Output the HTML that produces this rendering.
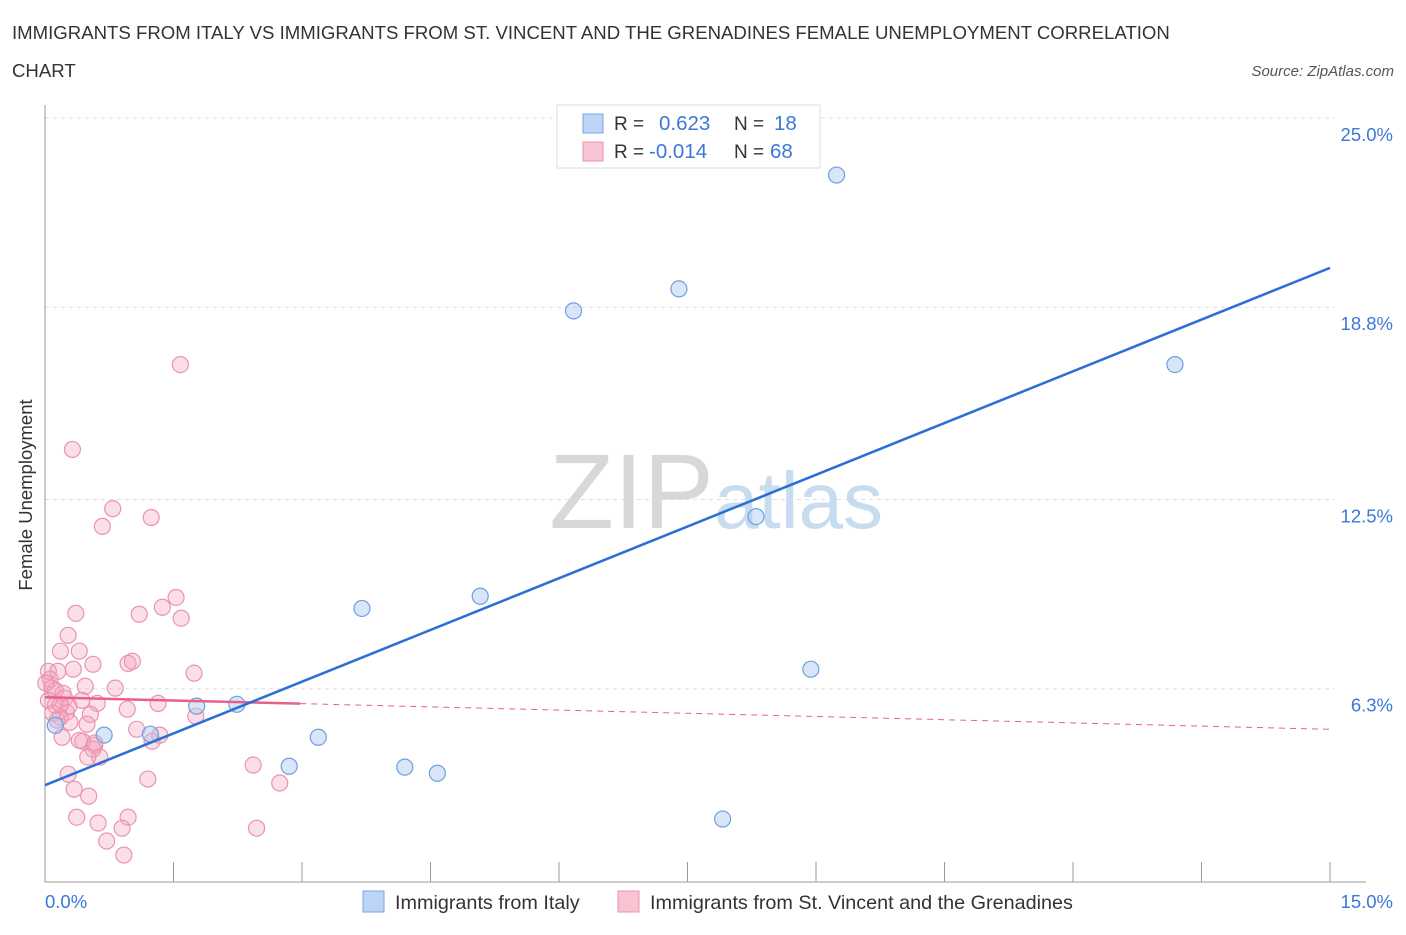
<!DOCTYPE html>
<html><head><meta charset="utf-8"><style>
body{margin:0;background:#fff;font-family:"Liberation Sans",sans-serif;}
svg text{font-family:"Liberation Sans",sans-serif;}
</style></head><body>
<svg id="chart" width="1406" height="930" viewBox="0 0 1406 930">
<text x="12" y="39" font-size="18.6" fill="#333">IMMIGRANTS FROM ITALY VS IMMIGRANTS FROM ST. VINCENT AND THE GRENADINES FEMALE UNEMPLOYMENT CORRELATION</text>
<text x="12" y="77" font-size="18.6" fill="#333">CHART</text>
<text x="1394" y="76" font-size="15" fill="#555" font-style="italic" text-anchor="end">Source: ZipAtlas.com</text>
<g id="grid"></g>
<g id="axes"></g>
<text x="714" y="528" font-size="106" fill="#d8d8d8" text-anchor="end" font-family="Liberation Serif">ZIP</text>
<text x="714" y="528" font-size="80" fill="#c8dcf0">atlas</text>
<g id="marks"></g>
<text x="32" y="495" font-size="18.5" fill="#333" text-anchor="middle" transform="rotate(-90 32 495)">Female Unemployment</text>
<g>
<rect x="557" y="105" width="263" height="63" fill="#fff" stroke="#ddd"/>
<rect x="583" y="114" width="20" height="19" fill="#bcd4f5" stroke="#7aa6e6"/>
<rect x="583" y="142" width="20" height="19" fill="#f8c4d4" stroke="#eb93ad"/>
<text x="614" y="130" font-size="19" fill="#333">R =</text>
<text x="659" y="130" font-size="20.5" fill="#3b78d8">0.623</text>
<text x="734" y="130" font-size="19" fill="#333">N =</text>
<text x="774" y="130" font-size="20.5" fill="#3b78d8">18</text>
<text x="614" y="158" font-size="19" fill="#333">R =</text>
<text x="649" y="158" font-size="20.5" fill="#3b78d8">-0.014</text>
<text x="734" y="158" font-size="19" fill="#333">N =</text>
<text x="770" y="158" font-size="20.5" fill="#3b78d8">68</text>
</g>
<g>
<rect x="363" y="891" width="21" height="21" fill="#bcd4f5" stroke="#7aa6e6"/>
<text x="395" y="909" font-size="19.8" fill="#333">Immigrants from Italy</text>
<rect x="618" y="891" width="21" height="21" fill="#f8c4d4" stroke="#eb93ad"/>
<text x="650" y="909" font-size="19.8" fill="#333">Immigrants from St. Vincent and the Grenadines</text>
</g>
</svg>
<script>
const yTicks=[25.0,18.8,12.5,6.3];
const yTickLabels=["25.0%","18.8%","12.5%","6.3%"];
const xTickLabels=["0.0%","15.0%"];
const italyX=[9.24,7.40,6.17,13.19,8.30,5.08,3.70,8.94,2.24,1.77,0.69,1.23,3.19,2.85,4.20,4.58,7.91,0.12];
const italyY=[23.13,19.40,18.68,16.92,11.94,9.33,8.93,6.94,5.79,5.73,4.78,4.81,4.71,3.76,3.73,3.53,2.03,5.10];
const svgX=[1.58,0.32,0.79,1.24,0.67,0.36,1.53,1.37,1.10,1.59,0.27,0.18,0.40,0.56,0.97,1.02,1.74,0.04,0.33,0.15,0.06,0.47,0.82,0.08,0.21,0.61,1.32,0.96,0.53,1.76,0.12,0.25,0.18,0.29,0.49,1.07,1.34,1.25,0.20,0.44,0.58,0.56,0.64,0.50,0.27,1.20,2.43,2.74,0.34,0.51,0.37,0.97,0.62,0.90,2.47,0.72,0.92,0.12,0.04,0.23,0.09,0.14,0.01,0.40,0.58,0.28,0.43,0.18];
const svgY=[16.92,14.14,12.20,11.91,11.62,8.77,9.29,8.97,8.74,8.61,8.05,7.53,7.53,7.10,7.13,7.20,6.81,6.87,6.94,6.87,6.61,6.38,6.32,6.32,6.15,5.82,5.82,5.63,5.46,5.40,5.76,5.53,5.37,5.20,5.14,4.97,4.78,4.58,4.71,4.58,4.45,4.32,4.06,4.06,3.50,3.34,3.80,3.21,3.01,2.78,2.09,2.09,1.90,1.73,1.73,1.31,0.85,6.25,5.92,5.99,5.50,5.27,6.48,4.61,4.52,5.73,5.92,5.79];
const italyTrend=[3.14,20.09];
const svgTrend=[6.02,4.97];
const svgSolidEnd=2.98;

const NS="http://www.w3.org/2000/svg";
const X0=45,X1=1330,Y0=881,Y1=118;
const sx=v=>X0+(v/15)*(X1-X0);
const sy=v=>Y0-(v/25)*(Y0-Y1);
function mk(tag,attrs,parent){const e=document.createElementNS(NS,tag);for(const k in attrs)e.setAttribute(k,attrs[k]);parent.appendChild(e);return e;}
const grid=document.getElementById('grid'),axes=document.getElementById('axes'),marks=document.getElementById('marks');
yTicks.forEach((t,i)=>{
 const l=mk('line',{x1:X0,x2:X1+5,y1:sy(t),y2:sy(t),stroke:'#ddd','stroke-dasharray':'4 4'},grid);
 
 
 const tx=mk('text',{x:1393,y:sy(t)+23,'font-size':18.5,fill:'#3b78d8','text-anchor':'end'},axes);
 tx.textContent=yTickLabels[i];
 
 
});
const ya=mk('line',{x1:X0,x2:X0,y1:105,y2:882,stroke:'#999'},axes);


const xa=mk('line',{x1:X0,x2:1366,y1:882,y2:882,stroke:'#999'},axes);


for(let i=0;i<=10;i++){
 const x=sx(i*1.5);
 const t=mk('line',{x1:x,x2:x,y1:862,y2:882,stroke:'#999'},axes);
 
 
}
const xl0=mk('text',{x:45,y:908,'font-size':18.5,fill:'#3b78d8'},axes);xl0.textContent=xTickLabels[0];


const xl1=mk('text',{x:1393,y:908,'font-size':18.5,fill:'#3b78d8','text-anchor':'end'},axes);xl1.textContent=xTickLabels[1];



svgX.forEach((v,i)=>{
 const c=mk('circle',{cx:sx(v),cy:sy(svgY[i]),r:8,fill:'rgba(244,164,190,0.35)',stroke:'#eb93ad','stroke-width':1.2},marks);
 
 
});
italyX.forEach((v,i)=>{
 const c=mk('circle',{cx:sx(v),cy:sy(italyY[i]),r:8,fill:'rgba(170,200,240,0.45)',stroke:'#6f9fe0','stroke-width':1.2},marks);
 
 
});
const pSolidY=svgTrend[0]+(svgTrend[1]-svgTrend[0])*svgSolidEnd/15;
const ps=mk('line',{x1:sx(0),y1:sy(svgTrend[0]),x2:sx(svgSolidEnd),y2:sy(pSolidY),stroke:'#e8608a','stroke-width':2.5},marks);


const pd=mk('line',{x1:sx(svgSolidEnd),y1:sy(pSolidY),x2:sx(15),y2:sy(svgTrend[1]),stroke:'#e8608a','stroke-width':1,'stroke-dasharray':'6 5'},marks);


const bt=mk('line',{x1:sx(0),y1:sy(italyTrend[0]),x2:sx(15),y2:sy(italyTrend[1]),stroke:'#2a6fd6','stroke-width':2.5},marks);


</script>
</body></html>
